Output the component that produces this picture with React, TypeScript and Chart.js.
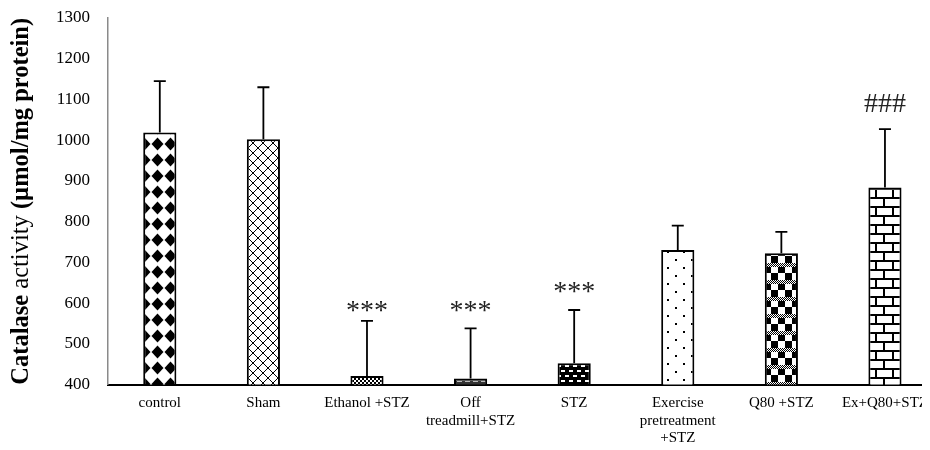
import React, { useEffect, useRef } from "react";
import { Chart, registerables } from "chart.js";

Chart.register(...registerables);

// ---- data ----
const categories: string[][] = [
  ["control"],
  ["Sham"],
  ["Ethanol +STZ"],
  ["Off", "treadmill+STZ"],
  ["STZ"],
  ["Exercise", "pretreatment", "+STZ"],
  ["Q80 +STZ"],
  ["Ex+Q80+STZ"],
];
const means = [1019, 1002, 421, 415, 452, 730, 722, 884];
const errors = [126, 128, 135, 123, 131, 60, 53, 143];
const marks = ["", "", "***", "***", "***", "", "", "###"];
const markLevels: (number | null)[] = [null, null, 560, 560, 608, null, null, 1068];
const yMin = 400;
const yMax = 1300;
const yStep = 100;
const yTitleParts: { text: string; bold: boolean }[] = [
  { text: "Catalase ", bold: true },
  { text: "activity ", bold: false },
  { text: "(\u00b5mol/mg protein)", bold: true },
];

const SERIF = "'Liberation Serif', 'Times New Roman', serif";

function makePattern(
  ctx: CanvasRenderingContext2D,
  w: number,
  h: number,
  bg: string,
  draw: (g: CanvasRenderingContext2D) => void
): CanvasPattern | string {
  const c = document.createElement("canvas");
  c.width = w;
  c.height = h;
  const g = c.getContext("2d")!;
  g.fillStyle = bg;
  g.fillRect(0, 0, w, h);
  g.fillStyle = "#000";
  g.strokeStyle = "#000";
  draw(g);
  return ctx.createPattern(c, "repeat") || bg;
}

function buildPatterns(ctx: CanvasRenderingContext2D) {
  return [
    // control: black diamonds
    makePattern(ctx, 13, 16, "#fff", (g) => {
      g.beginPath();
      g.moveTo(6.5, 1.5);
      g.lineTo(12.5, 8);
      g.lineTo(6.5, 14.5);
      g.lineTo(0.5, 8);
      g.closePath();
      g.fill();
    }),
    // Sham: diagonal crosshatch
    makePattern(ctx, 10, 10, "#fff", (g) => {
      g.lineWidth = 1;
      g.beginPath();
      g.moveTo(0, 0);
      g.lineTo(10, 10);
      g.moveTo(10, 0);
      g.lineTo(0, 10);
      g.stroke();
    }),
    // Ethanol: small checker
    makePattern(ctx, 4, 4, "#fff", (g) => {
      g.fillRect(0, 0, 2, 2);
      g.fillRect(2, 2, 2, 2);
    }),
    // Off treadmill: dark with light dashes
    makePattern(ctx, 8, 4, "#333", (g) => {
      g.fillStyle = "#bbb";
      g.fillRect(1, 1, 5, 1);
    }),
    // STZ: black with white dashes
    makePattern(ctx, 8, 10, "#000", (g) => {
      g.fillStyle = "#fff";
      g.fillRect(1, 2, 4, 2);
      g.fillRect(5, 7, 3, 2);
      g.fillRect(0, 7, 1, 2);
    }),
    // Exercise: sparse dots
    makePattern(ctx, 16, 16, "#fff", (g) => {
      g.fillRect(3, 3, 2, 2);
      g.fillRect(11, 11, 2, 2);
    }),
    // Q80: checker blocks with dithered bands
    makePattern(ctx, 14, 17, "#fff", (g) => {
      for (let y = 0; y < 4; y++)
        for (let x = 0; x < 14; x++) if ((x + y) % 2 === 0) g.fillRect(x, y, 1, 1);
      g.fillRect(0, 4, 7, 6);
      g.fillRect(7, 10, 7, 7);
    }),
    // Ex+Q80: bricks
    makePattern(ctx, 17, 18, "#fff", (g) => {
      g.fillRect(0, 0, 17, 2);
      g.fillRect(0, 9, 17, 2);
      g.fillRect(0, 0, 2, 9);
      g.fillRect(8, 9, 2, 9);
    }),
  ];
}

export default function App() {
  const canvasRef = useRef<HTMLCanvasElement | null>(null);

  useEffect(() => {
    const canvas = canvasRef.current;
    if (!canvas) return;
    const ctx = canvas.getContext("2d")!;
    const patterns = buildPatterns(ctx);

    const overlayPlugin = {
      id: "overlay",
      afterDatasetsDraw(chart: any) {
        const c = chart.ctx as CanvasRenderingContext2D;
        const yScale = chart.scales.y;
        const meta = chart.getDatasetMeta(0);
        c.save();
        meta.data.forEach((bar: any, i: number) => {
          const x = bar.x;
          const yTop = yScale.getPixelForValue(means[i] + errors[i]);
          const yBar = bar.y;
          c.strokeStyle = "#000";
          c.lineWidth = 1.8;
          c.beginPath();
          c.moveTo(x, yBar);
          c.lineTo(x, yTop);
          c.moveTo(x - 6, yTop);
          c.lineTo(x + 6, yTop);
          c.stroke();
          const lvl = markLevels[i];
          if (marks[i] && lvl !== null) {
            c.fillStyle = "#222";
            c.font = `28px ${SERIF}`;
            c.textAlign = "center";
            c.textBaseline = "alphabetic";
            c.fillText(marks[i], x, yScale.getPixelForValue(lvl));
          }
        });
        c.restore();
      },
      afterDraw(chart: any) {
        const c = chart.ctx as CanvasRenderingContext2D;
        const area = chart.chartArea;
        const midY = (area.top + area.bottom) / 2;
        c.save();
        c.translate(20, midY);
        c.rotate(-Math.PI / 2);
        c.fillStyle = "#000";
        c.textBaseline = "alphabetic";
        c.textAlign = "left";
        const fontFor = (b: boolean) => `${b ? "bold " : ""}24.5px ${SERIF}`;
        let total = 0;
        const widths = yTitleParts.map((p) => {
          c.font = fontFor(p.bold);
          const w = c.measureText(p.text).width;
          total += w;
          return w;
        });
        let pos = -total / 2;
        yTitleParts.forEach((p, i) => {
          c.font = fontFor(p.bold);
          c.fillText(p.text, pos, 0);
          pos += widths[i];
        });
        c.restore();
      },
    };

    const chart = new Chart(ctx, {
      type: "bar",
      data: {
        labels: categories,
        datasets: [
          {
            data: means,
            backgroundColor: patterns as any,
            borderColor: "#000",
            borderWidth: 2,
            borderSkipped: false,
            categoryPercentage: 1,
            barPercentage: 0.32,
          },
        ],
      },
      options: {
        responsive: false,
        animation: false,
        events: [],
        layout: { padding: { top: 10, left: 0, right: 0, bottom: 0 } },
        plugins: {
          legend: { display: false },
          tooltip: { enabled: false },
          title: { display: false },
        },
        scales: {
          x: {
            grid: { display: true, drawOnChartArea: false, drawTicks: false },
            border: { display: true, color: "#000", width: 2 },
            ticks: {
              color: "#000",
              font: { family: SERIF, size: 15, lineHeight: 1.17 },
              padding: 10,
              maxRotation: 0,
              minRotation: 0,
              autoSkip: false,
            },
            afterFit(scale: any) {
              scale.height = 65.5;
            },
          },
          y: {
            min: yMin,
            max: yMax,
            grid: { display: true, drawOnChartArea: false, drawTicks: false },
            border: { display: true, color: "#8a8a8a", width: 1.5 },
            ticks: {
              stepSize: yStep,
              color: "#000",
              font: { family: SERIF, size: 17 },
              padding: 18,
              callback: (v: any) => String(v),
            },
            afterFit(scale: any) {
              scale.width = 100;
              scale.paddingTop = 10;
              scale.paddingBottom = 0;
            },
          },
        },
      },
      plugins: [overlayPlugin],
    });

    return () => {
      chart.destroy();
    };
  }, []);

  return (
    <div style={{ width: 922, height: 442, overflow: "hidden" }}>
      <canvas ref={canvasRef} width={930} height={442} style={{ display: "block" }} />
    </div>
  );
}
